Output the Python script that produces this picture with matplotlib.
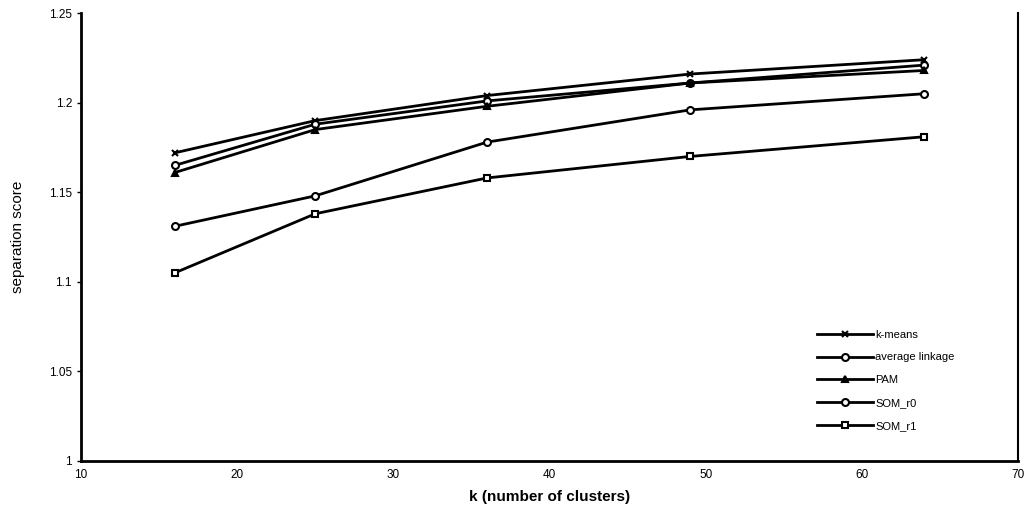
import matplotlib.pyplot as plt

plt.rcParams['font.family'] = ['Liberation Sans', 'DejaVu Sans']

k_values = [16, 25, 36, 49, 64]
kmeans = [1.172, 1.190, 1.204, 1.216, 1.224]
avg_linkage = [1.165, 1.188, 1.201, 1.211, 1.221]
pam = [1.161, 1.185, 1.198, 1.211, 1.218]
som_r0 = [1.131, 1.148, 1.178, 1.196, 1.205]
som_r1 = [1.105, 1.138, 1.158, 1.170, 1.181]

series = [
    ('k-means', kmeans, 'x', 'k'),
    ('average linkage', avg_linkage, 'o', 'white'),
    ('PAM', pam, '^', 'k'),
    ('SOM_r0', som_r0, 'o', 'white'),
    ('SOM_r1', som_r1, 's', 'white'),
]

fig = plt.figure(figsize=(10.32, 5.13), dpi=100)
ax = fig.add_axes([0.0785, 0.1014, 0.908, 0.873])

for label, vals, marker, face in series:
    ax.plot(k_values, vals, color='k', lw=2, marker=marker, markersize=5,
            markerfacecolor=face, markeredgecolor='k', markeredgewidth=1.5,
            label=label)

ax.set_xlim(10, 70)
ax.set_ylim(1.0, 1.25)
ax.set_xticks([10, 20, 30, 40, 50, 60, 70])
ax.set_yticks([1.0, 1.05, 1.1, 1.15, 1.2, 1.25])
ax.set_yticklabels(['1', '1.05', '1.1', '1.15', '1.2', '1.25'])
ax.tick_params(axis='both', labelsize=8.5, length=3, width=1, direction='out')
ax.tick_params(axis='x', length=0, pad=6)

for side in ['left', 'bottom']:
    ax.spines[side].set_linewidth(2)
ax.spines['right'].set_linewidth(1.5)
ax.spines['top'].set_visible(False)

ax.set_xlabel('k (number of clusters)', fontsize=11, fontweight='bold', labelpad=6)
ax.set_ylabel('separation score', fontsize=11, labelpad=17)

ax.legend(loc='lower left', bbox_to_anchor=(0.775, 0.045), frameon=False,
          fontsize=8, handlelength=5, labelspacing=1.15, handletextpad=0.2)

fig.savefig('out.png', dpi=100)
